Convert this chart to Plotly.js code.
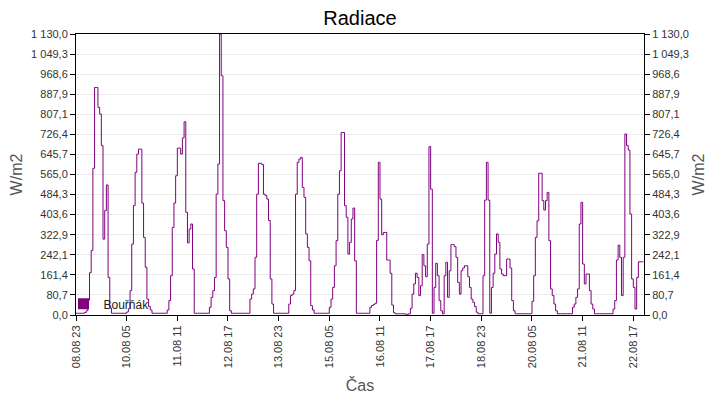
<!DOCTYPE html>
<html>
<head>
<meta charset="utf-8">
<script src="https://cdn.plot.ly/plotly-3.0.1.min.js"></script>
<style>html,body{margin:0;padding:0;background:#fff;}#chart{width:720px;height:400px;}</style>
</head>
<body>
<div id="chart"></div>
<script>
// Hourly radiation readings (W/m2), starting 08.08 23:00
var startTime = '2023-08-08T23:00:00Z';
var radiation = [
  7,7,7,7,7,10,17,60,170,260,590,915,
  915,835,808,681,305,420,523,151,28,7,7,7,
  7,7,7,7,7,7,12,25,98,285,440,574,
  647,667,667,450,312,192,64,34,20,7,7,7,
  7,7,7,7,7,7,20,58,158,352,450,560,
  671,671,647,712,777,413,290,346,366,185,7,7,
  7,7,7,7,7,7,7,31,71,98,151,486,
  607,1130,962,460,339,272,145,17,7,7,7,7,
  7,7,7,7,7,7,7,64,84,105,232,486,
  610,610,605,486,480,466,380,145,44,7,7,7,
  7,7,7,7,7,7,44,78,84,98,486,614,
  627,634,513,473,326,272,218,38,20,7,7,7,
  7,7,7,7,7,7,31,64,111,198,299,486,
  580,734,734,440,393,245,292,386,430,218,7,7,
  7,7,7,7,7,7,31,38,42,47,300,614,
  466,323,332,332,221,221,168,40,9,5,5,5,
  5,5,5,3,3,5,27,84,125,168,151,78,
  118,243,198,154,285,677,506,7,111,208,158,58,
  17,5,158,212,71,178,283,283,275,232,131,84,
  178,189,198,198,154,111,64,51,34,11,5,5,
  5,158,462,614,462,7,111,168,245,326,292,185,
  165,158,158,225,225,189,58,17,5,5,5,5,
  5,5,5,5,5,5,55,158,312,379,570,570,
  460,422,460,493,299,105,78,44,17,5,5,5,
  5,5,5,5,5,5,31,44,71,105,366,453,
  205,125,165,165,98,44,24,5,5,5,5,5,
  5,5,5,5,5,5,24,58,221,281,232,78,
  232,728,681,663,406,145,111,24,151,214,214,214,
  214
];
var yTicks = [0,80.7,161.4,242.1,322.9,403.6,484.3,565,645.7,726.4,807.1,887.9,968.6,1049.3,1130];
var seriesName = 'Bouřňák';
var xStart = '2023-08-08 23:00';
var xEnd = '2023-08-22 23:20';

function pad(n){return (n<10?'0':'')+n;}
var t0 = Date.parse(startTime);
var times = radiation.map(function(v,i){
  var d = new Date(t0 + i*3600000);
  return d.getUTCFullYear()+'-'+pad(d.getUTCMonth()+1)+'-'+pad(d.getUTCDate())+' '+pad(d.getUTCHours())+':00';
});

var font = 'Liberation Sans, Arial, sans-serif';
var traces = [
  {x: times, y: radiation, type:'scatter', mode:'lines', line:{color:'#800080', width:1, shape:'hv'},
   showlegend:false, hoverinfo:'skip'},
  {x:[null], y:[null], type:'scatter', mode:'markers', name: seriesName, yaxis:'y2',
   marker:{symbol:'square', size:11, color:'#800080'}}
];
var yCommon = {
  range:[0,1130], tickvals:yTicks, tickformat:',.1f', ticks:'outside', ticklen:5, tickcolor:'#000',
  showline:true, linecolor:'#000', linewidth:1, zeroline:false,
  tickfont:{family:font, size:11, color:'#333'},
  title:{text:'W/m2', font:{family:font, size:16, color:'#555'}, standoff:4}
};
var layout = {
  width:720, height:400,
  margin:{l:76, r:76, t:34, b:85},
  paper_bgcolor:'#fff', plot_bgcolor:'#fff',
  separators:', ',
  title:{text:'Radiace', font:{family:font, size:20, color:'#000'}, x:0.5, xanchor:'center', y:0.955, yanchor:'middle'},
  xaxis:{type:'date', range:[xStart, xEnd], tick0:'2023-08-08 23:00', dtick:30*3600000,
    tickformat:'%d.%m %H', tickangle:-90, ticks:'outside', ticklen:5, tickcolor:'#000',
    showline:true, linecolor:'#000', linewidth:1, mirror:true, showgrid:false, zeroline:false,
    tickfont:{family:font, size:11, color:'#333'},
    title:{text:'Čas', font:{family:font, size:16, color:'#555'}, standoff:12}},
  yaxis: Object.assign({}, yCommon, {showgrid:true, gridcolor:'#ebebeb', gridwidth:1}),
  yaxis2: Object.assign({}, yCommon, {overlaying:'y', side:'right', showgrid:false}),
  legend:{x:-0.022, y:-0.012, xanchor:'left', yanchor:'bottom', bgcolor:'rgba(0,0,0,0)',
    font:{family:font, size:12, color:'#222'}, itemwidth:30, tracegroupgap:0},
  showlegend:true
};
Plotly.newPlot('chart', traces, layout, {displayModeBar:false, staticPlot:true});
</script>
</body>
</html>
